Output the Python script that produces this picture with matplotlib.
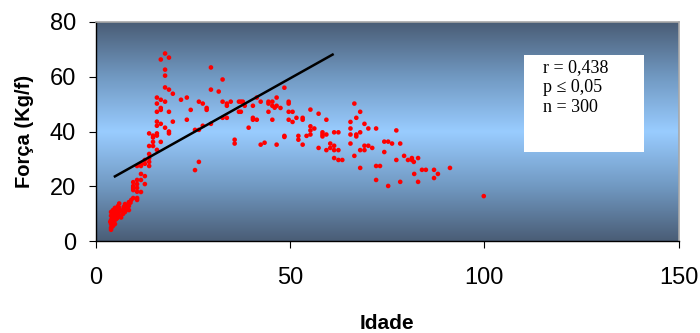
import numpy as np
import matplotlib
matplotlib.use("Agg")
import matplotlib.pyplot as plt
from matplotlib.colors import LinearSegmentedColormap
from matplotlib.patches import Rectangle

# ---- data ----
idade = [
    4.0, 4.0, 4.0, 4.0, 4.0, 4.0, 4.5, 4.5, 4.5, 5.0, 5.0, 5.0, 5.0, 5.0,
    5.6, 5.6, 5.6, 6.1, 6.1, 6.1, 6.1, 6.6, 7.1, 7.1, 7.6, 7.6, 7.6,
    8.6, 8.6, 8.6, 9.7, 10.7, 10.7, 9.7, 9.7, 9.7, 9.7, 10.7, 10.7, 10.7, 11.7,
    10.7, 11.7, 12.7, 11.7, 12.7, 10.7, 11.7, 11.7, 12.7, 12.7,
    13.8, 13.8, 13.8, 13.8, 13.8, 14.8, 14.8, 15.8,
    13.8, 14.8, 14.8, 15.8, 15.8, 16.8, 18.9, 18.9, 17.9, 15.8, 15.8, 16.8, 19.9,
    15.8, 18.9, 16.8, 16.8, 15.8, 16.8, 17.9, 15.8,
    19.9, 18.9, 17.9, 17.9, 17.9, 18.9, 16.8, 17.9,
    4.2, 4.7, 5.3, 6.3, 7.3, 8.0, 8.2, 3.8, 4.3, 5.8, 9.2, 9.0,
    22.0, 23.5, 24.5, 23.5, 25.6, 26.6, 26.6, 27.6, 28.6, 28.6, 29.7, 29.7, 31.7,
    32.7, 29.7, 27.6, 32.7, 33.8, 33.8, 34.8, 32.7, 33.8, 25.6, 26.6, 35.8, 35.8,
    36.9, 37.4, 37.9, 36.9, 37.4, 38.4, 39.4, 40.5, 40.5, 40.5, 41.5, 41.5, 42.5,
    42.5, 43.5, 44.5, 44.5, 44.5, 45.5, 45.5, 45.5, 46.6, 46.6, 46.6, 47.6, 48.6,
    48.6, 49.7, 49.7, 49.7, 46.1, 49.7, 50.7, 50.7, 48.6,
    51.7, 52.2, 52.2, 53.3, 53.3, 53.3, 54.3, 55.3, 55.3, 55.3, 55.3, 56.3, 57.4,
    57.4, 58.4, 58.4, 58.4, 59.4, 59.4, 59.4, 60.4, 60.4, 61.4, 62.5, 61.4, 61.4,
    62.5, 61.4, 62.5, 63.5, 65.6, 65.6, 65.6, 65.6, 66.6, 67.1, 68.1, 67.1, 67.1,
    68.1, 66.6, 68.1, 69.2, 68.1, 69.2, 69.2, 70.2, 70.2, 71.2, 72.2, 72.2, 73.2,
    72.2, 74.3, 75.3, 76.3, 74.3, 75.3, 77.4, 77.4, 78.4, 78.4, 79.4, 80.4, 81.4,
    81.4, 81.9, 82.0, 83.0, 83.0, 84.0, 85.0, 87.1, 87.1, 88.1, 91.2, 99.9,
]
forca = [
    10.6, 9.2, 7.7, 6.2, 4.8, 4.1, 11.3, 8.4, 5.5, 12.1, 10.6, 9.2, 7.7, 6.2,
    11.3, 9.9, 8.4, 13.7, 12.1, 10.6, 9.2, 8.6, 11.4, 9.9, 13.5, 12.1, 10.6,
    14.2, 12.8, 11.3, 15.7, 15.7, 15.0, 21.5, 20.1, 19.4, 18.6, 20.8, 19.4, 18.0, 17.9,
    22.3, 22.3, 20.8, 24.5, 23.7, 27.4, 28.2, 27.4, 29.6, 28.2,
    30.3, 28.9, 27.4, 31.8, 34.7, 36.2, 34.7, 33.3,
    39.3, 38.5, 37.8, 39.3, 38.5, 36.2, 40.0, 39.3, 41.4, 43.6, 42.1, 42.8, 43.6,
    47.2, 47.2, 48.6, 47.9, 52.4, 51.6, 50.9, 50.2,
    53.8, 55.3, 56.1, 60.4, 62.6, 67.0, 66.3, 68.5,
    5.2, 7.0, 8.0, 11.0, 12.5, 11.5, 13.0, 7.0, 9.9, 12.8, 15.0, 14.0,
    51.6, 52.4, 47.9, 44.3, 40.6, 40.6, 50.9, 50.2, 48.6, 47.9, 63.4, 55.3, 54.6,
    59.0, 42.8, 42.1, 50.9, 50.2, 49.4, 50.9, 45.0, 45.0, 25.9, 28.9, 37.0, 35.6,
    50.9, 50.9, 50.9, 47.2, 47.2, 49.4, 41.4, 49.4, 45.0, 44.3, 52.4, 44.3, 50.9,
    35.2, 35.9, 50.9, 50.2, 47.2, 50.9, 49.4, 44.3, 52.4, 49.4, 35.2, 48.6, 56.0,
    38.0, 50.9, 50.2, 44.3, 48.7, 47.2, 47.2, 43.5, 38.4,
    45.0, 38.4, 37.0, 45.0, 44.3, 35.2, 38.4, 48.0, 41.9, 40.4, 38.9, 41.1, 46.5,
    34.0, 39.7, 38.9, 38.2, 44.3, 38.9, 33.2, 35.6, 34.0, 39.7, 39.7, 34.8, 33.2,
    33.2, 30.3, 29.6, 29.6, 43.5, 41.1, 38.9, 35.6, 50.2, 45.0, 47.2, 38.9, 38.2,
    39.7, 31.1, 33.2, 33.2, 26.7, 42.8, 34.8, 34.8, 41.1, 34.0, 41.1, 27.4, 27.4,
    22.3, 36.3, 36.3, 35.6, 32.5, 20.1, 40.4, 29.6, 35.6, 21.6, 31.1, 29.6, 30.3,
    29.6, 28.9, 24.5, 30.3, 21.6, 26.0, 26.0, 26.0, 23.0, 24.5, 26.7, 16.4,
]

trend_x = [5.0, 61.0]
trend_y = [23.6, 68.1]

x_ticks = [0, 50, 100, 150]
y_ticks = [0, 20, 40, 60, 80]
stats_lines = ["r = 0,438", "p \u2264 0,05", "n = 300"]

# ---- figure ----
fig = plt.figure(figsize=(7.0, 3.33), dpi=100)
fig.patch.set_facecolor("white")
ax = fig.add_axes([95.5 / 700, (333 - 241) / 333, (678.5 - 95.5) / 700, (241 - 22) / 333])

cmap = LinearSegmentedColormap.from_list(
    "bg", [(0.0, "#4a5d76"), (0.25, "#7199c2"), (0.5, "#99ccff"),
           (0.75, "#7199c2"), (1.0, "#4a5d76")])
grad = np.linspace(0, 1, 256).reshape(-1, 1)
ax.imshow(grad, cmap=cmap, aspect="auto", extent=[0, 150, 0, 80],
          origin="lower", zorder=0, interpolation="bilinear")

ax.scatter(idade, forca, s=11, color="#ff0000", edgecolors="none", zorder=3)
ax.plot(trend_x, trend_y, color="black", lw=1.8, zorder=4)

ax.set_xlim(0, 150)
ax.set_ylim(0, 80)
ax.set_xticks(x_ticks)
ax.set_yticks(y_ticks)

for sp in ["left", "bottom"]:
    ax.spines[sp].set_color("black")
    ax.spines[sp].set_linewidth(1.0)
for sp in ["top", "right"]:
    ax.spines[sp].set_color("#a8a8a8")
    ax.spines[sp].set_linewidth(1.2)

ax.tick_params(axis="both", direction="out", length=5, width=0.8,
               labelsize=17, colors="black")
ax.tick_params(axis="x", pad=14)
ax.tick_params(axis="y", pad=9)
for lab in ax.get_xticklabels() + ax.get_yticklabels():
    lab.set_fontfamily("Liberation Sans")

ax.set_xlabel("Idade", fontsize=15, fontweight="bold",
              family="Liberation Sans", labelpad=18)
ax.set_ylabel("Força (Kg/f)", fontsize=14.5, fontweight="bold",
              family="Liberation Sans", labelpad=11)

# stats box
rect = Rectangle((0.735, 0.405), 0.206, 0.444, transform=ax.transAxes,
                 facecolor="white", edgecolor="none", zorder=5)
ax.add_patch(rect)
for i, line in enumerate(stats_lines):
    ax.text(0.767, 0.794 - i * 0.092, line, transform=ax.transAxes,
            fontsize=13, family=["Liberation Serif", "DejaVu Serif"],
            va="center", ha="left", zorder=6)

fig.savefig("out.png", dpi=100)
